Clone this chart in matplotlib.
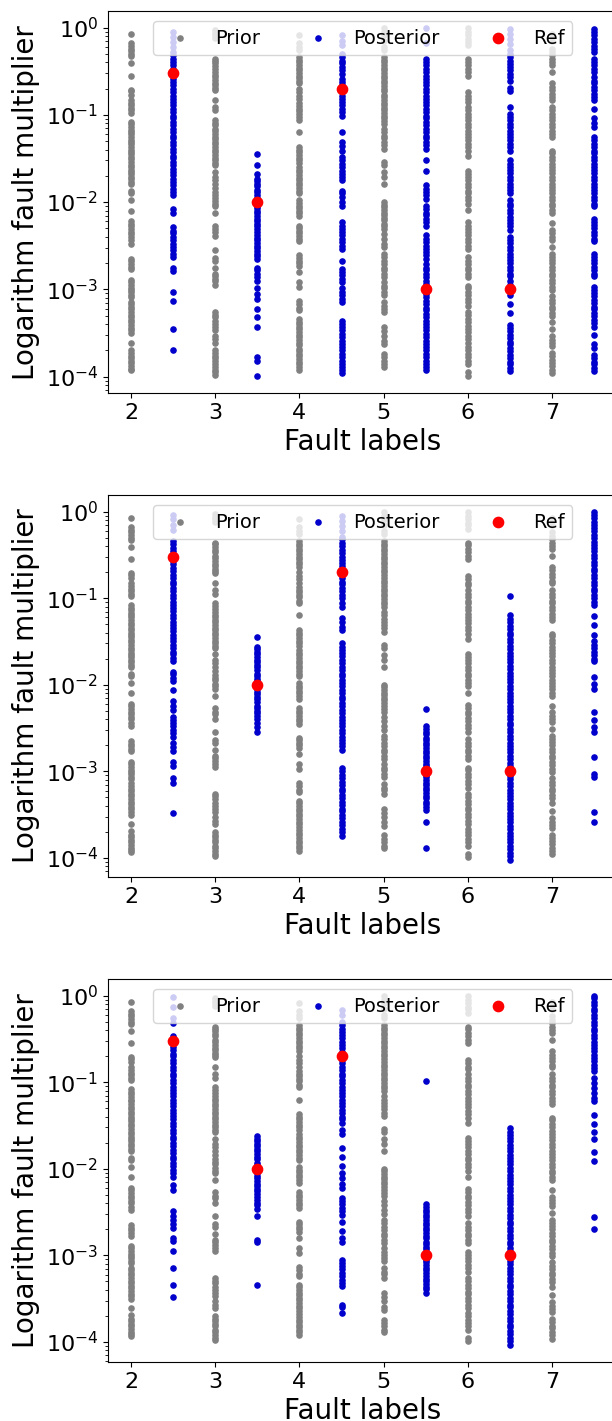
import numpy as np
import matplotlib
matplotlib.use("Agg")
import matplotlib.pyplot as plt

# =====================================================
# Fault positions
# =====================================================

PRIOR_X = [2, 3, 4, 5, 6, 7]
POST_X = [2.5, 3.5, 4.5, 5.5, 6.5, 7.5]
REF_X = [2.5, 3.5, 4.5, 5.5, 6.5]

# reference multipliers
REF_VALUES = [0.3, 0.01, 0.2, 0.001, 0.001]

# =====================================================
# Prior samples (log10 of multiplier), same for all runs
# =====================================================

PRIOR_2 = [-0.07, -0.18, -0.21, -0.24, -0.27, -0.30, -0.33, -0.41, -0.55, -0.71, -0.73, -0.77,
           -0.83, -0.86, -0.89, -0.92, -0.95, -0.98, -1.08, -1.11, -1.14, -1.17, -1.20, -1.22,
           -1.25, -1.29, -1.31, -1.34, -1.37, -1.40, -1.43, -1.45, -1.48, -1.51, -1.54, -1.57,
           -1.60, -1.63, -1.66, -1.68, -1.71, -1.74, -1.77, -1.79, -1.87, -1.90, -1.98, -2.10,
           -2.22, -2.25, -2.28, -2.31, -2.34, -2.37, -2.40, -2.44, -2.48, -2.65, -2.68, -2.71,
           -2.74, -2.77, -2.89, -2.92, -2.95, -2.98, -3.01, -3.03, -3.06, -3.09, -3.14, -3.17,
           -3.20, -3.23, -3.26, -3.29, -3.32, -3.35, -3.38, -3.41, -3.44, -3.47, -3.50, -3.61,
           -3.69, -3.73, -3.76, -3.79, -3.82, -3.85, -3.88, -3.91, -3.93]
PRIOR_3 = [-0.03, -0.06, -0.09, -0.12, -0.36, -0.38, -0.41, -0.44, -0.47, -0.51, -0.54, -0.57,
           -0.60, -0.63, -0.66, -0.69, -0.71, -0.83, -0.91, -0.95, -1.06, -1.09, -1.12, -1.16,
           -1.19, -1.22, -1.25, -1.28, -1.31, -1.34, -1.37, -1.40, -1.43, -1.46, -1.49, -1.52,
           -1.55, -1.58, -1.65, -1.71, -1.75, -1.79, -1.84, -1.89, -1.92, -1.95, -1.99, -2.02,
           -2.05, -2.13, -2.27, -2.31, -2.34, -2.39, -2.55, -2.64, -2.67, -2.75, -2.82, -2.85,
           -2.88, -2.91, -2.95, -3.26, -3.29, -3.32, -3.36, -3.40, -3.43, -3.47, -3.53, -3.57,
           -3.61, -3.70, -3.73, -3.76, -3.79, -3.82, -3.86, -3.89, -3.92, -3.95, -3.98]
PRIOR_4 = [-0.09, -0.18, -0.22, -0.26, -0.34, -0.37, -0.40, -0.43, -0.46, -0.49, -0.52, -0.55,
           -0.58, -0.61, -0.64, -0.70, -0.74, -0.78, -0.82, -0.87, -0.90, -0.93, -0.96, -0.99,
           -1.03, -1.06, -1.20, -1.37, -1.40, -1.43, -1.46, -1.49, -1.52, -1.55, -1.60, -1.63,
           -1.66, -1.69, -1.72, -1.75, -1.78, -1.81, -1.84, -1.87, -1.90, -1.98, -2.01, -2.04,
           -2.07, -2.10, -2.13, -2.16, -2.27, -2.30, -2.33, -2.36, -2.39, -2.42, -2.45, -2.61,
           -2.64, -2.67, -2.70, -2.73, -2.80, -2.92, -2.97, -3.13, -3.17, -3.21, -3.24, -3.34,
           -3.37, -3.40, -3.43, -3.46, -3.49, -3.52, -3.55, -3.58, -3.61, -3.64, -3.68, -3.71,
           -3.74, -3.77, -3.80, -3.83, -3.86, -3.89, -3.92]
PRIOR_5 = [-0.01, -0.05, -0.09, -0.15, -0.22, -0.26, -0.34, -0.37, -0.40, -0.43, -0.46, -0.49,
           -0.52, -0.55, -0.58, -0.61, -0.64, -0.67, -0.70, -0.73, -0.77, -0.80, -0.83, -0.86,
           -0.89, -0.92, -0.95, -0.98, -1.01, -1.04, -1.07, -1.10, -1.16, -1.20, -1.24, -1.27,
           -1.31, -1.35, -1.39, -1.54, -1.58, -1.66, -1.71, -1.79, -2.00, -2.03, -2.06, -2.09,
           -2.12, -2.15, -2.18, -2.21, -2.25, -2.28, -2.31, -2.37, -2.42, -2.48, -2.52, -2.59,
           -2.63, -2.67, -2.71, -2.75, -2.78, -2.82, -2.86, -2.92, -2.96, -2.99, -3.03, -3.07,
           -3.15, -3.19, -3.22, -3.26, -3.43, -3.48, -3.53, -3.59, -3.63, -3.74, -3.78, -3.82,
           -3.86, -3.89]
PRIOR_6 = [-0.01, -0.05, -0.09, -0.13, -0.16, -0.20, -0.36, -0.39, -0.43, -0.47, -0.51, -0.55,
           -0.74, -0.78, -0.82, -0.85, -0.91, -0.95, -0.99, -1.03, -1.06, -1.10, -1.14, -1.18,
           -1.22, -1.25, -1.29, -1.33, -1.37, -1.41, -1.47, -1.64, -1.68, -1.71, -1.75, -1.79,
           -1.83, -1.87, -1.90, -1.94, -1.98, -2.02, -2.09, -2.23, -2.27, -2.31, -2.34, -2.38,
           -2.42, -2.46, -2.50, -2.54, -2.63, -2.67, -2.71, -2.75, -2.78, -2.82, -2.86, -2.96,
           -2.99, -3.03, -3.07, -3.11, -3.15, -3.19, -3.26, -3.30, -3.34, -3.38, -3.42, -3.45,
           -3.49, -3.53, -3.57, -3.61, -3.66, -3.70, -3.74, -3.78, -3.82, -3.86, -3.95, -3.99]
PRIOR_7 = [-0.07, -0.15, -0.24, -0.28, -0.32, -0.36, -0.40, -0.43, -0.51, -0.64, -0.68, -0.72,
           -0.76, -0.80, -0.83, -0.91, -0.95, -0.99, -1.03, -1.06, -1.10, -1.14, -1.18, -1.22,
           -1.25, -1.41, -1.44, -1.48, -1.52, -1.56, -1.60, -1.63, -1.67, -1.71, -1.75, -1.79,
           -1.83, -1.86, -1.90, -1.94, -1.98, -2.02, -2.05, -2.09, -2.13, -2.24, -2.32, -2.36,
           -2.40, -2.43, -2.51, -2.59, -2.63, -2.66, -2.70, -2.74, -2.78, -2.82, -2.85, -2.89,
           -2.93, -2.97, -3.01, -3.08, -3.12, -3.16, -3.20, -3.23, -3.27, -3.31, -3.37, -3.46,
           -3.54, -3.58, -3.62, -3.65, -3.73, -3.77, -3.81, -3.84, -3.88, -3.92, -3.96]

PRIOR = [PRIOR_2, PRIOR_3, PRIOR_4, PRIOR_5, PRIOR_6, PRIOR_7]

# =====================================================
# Posterior samples (log10), run A
# =====================================================

POST_A_25 = [-0.05, -0.11, -0.16, -0.22, -0.28, -0.32, -0.36, -0.39, -0.43, -0.47, -0.50, -0.52,
             -0.55, -0.59, -0.62, -0.66, -0.70, -0.74, -0.78, -0.82, -0.85, -0.89, -0.93, -0.97,
             -1.01, -1.04, -1.08, -1.12, -1.16, -1.20, -1.24, -1.27, -1.31, -1.35, -1.39, -1.43,
             -1.47, -1.50, -1.54, -1.58, -1.62, -1.66, -1.69, -1.73, -1.77, -1.81, -1.85, -1.89,
             -1.92, -2.08, -2.13, -2.29, -2.33, -2.36, -2.40, -2.44, -2.48, -2.52, -2.55, -2.59,
             -2.63, -2.75, -2.79, -3.03, -3.13, -3.45, -3.70]
POST_A_35 = [-1.45, -1.57, -1.68, -1.73, -1.76, -1.79, -1.82, -1.86, -1.89, -1.92, -1.95, -1.98,
             -2.01, -2.04, -2.07, -2.10, -2.13, -2.16, -2.19, -2.22, -2.25, -2.28, -2.31, -2.34,
             -2.38, -2.41, -2.44, -2.47, -2.50, -2.53, -2.56, -2.59, -2.62, -2.65, -2.75, -2.78,
             -2.82, -2.86, -2.90, -2.98, -3.05, -3.11, -3.22, -3.32, -3.43, -3.78, -3.82, -3.99]
POST_A_45 = [-0.09, -0.15, -0.20, -0.30, -0.34, -0.38, -0.41, -0.45, -0.49, -0.53, -0.59, -0.62,
             -0.66, -0.74, -0.78, -0.82, -0.85, -0.89, -0.93, -0.97, -1.01, -1.20, -1.31, -1.36,
             -1.41, -1.48, -1.52, -1.56, -1.60, -1.64, -1.68, -1.71, -1.75, -1.87, -1.90, -1.94,
             -2.00, -2.04, -2.23, -2.27, -2.31, -2.34, -2.38, -2.42, -2.46, -2.50, -2.54, -2.67,
             -2.77, -2.80, -2.84, -2.88, -2.92, -2.99, -3.03, -3.07, -3.11, -3.14, -3.36, -3.40,
             -3.43, -3.47, -3.51, -3.55, -3.59, -3.63, -3.66, -3.70, -3.74, -3.78, -3.82, -3.86,
             -3.89, -3.93, -3.96]
POST_A_55 = [-0.01, -0.18, -0.36, -0.39, -0.43, -0.47, -0.51, -0.55, -0.59, -0.62, -0.66, -0.70,
             -0.74, -0.78, -0.82, -0.85, -0.89, -0.93, -0.97, -1.01, -1.04, -1.08, -1.12, -1.16,
             -1.20, -1.24, -1.27, -1.31, -1.35, -1.39, -1.52, -1.64, -1.81, -1.85, -1.89, -1.92,
             -1.96, -2.04, -2.08, -2.12, -2.15, -2.19, -2.23, -2.27, -2.38, -2.42, -2.46, -2.50,
             -2.54, -2.57, -2.61, -2.65, -2.71, -2.75, -2.78, -2.82, -2.86, -2.90, -2.94, -2.98,
             -3.01, -3.05, -3.09, -3.13, -3.17, -3.21, -3.24, -3.28, -3.32, -3.36, -3.40, -3.43,
             -3.47, -3.51, -3.55, -3.59, -3.63, -3.66, -3.70, -3.74, -3.78, -3.82, -3.86, -3.89,
             -3.93]
POST_A_65 = [-0.02, -0.07, -0.13, -0.19, -0.26, -0.30, -0.34, -0.38, -0.42, -0.45, -0.49, -0.53,
             -0.57, -0.61, -0.69, -0.73, -0.91, -0.99, -1.03, -1.06, -1.10, -1.14, -1.18, -1.22,
             -1.25, -1.29, -1.33, -1.37, -1.41, -1.52, -1.56, -1.60, -1.63, -1.67, -1.71, -1.75,
             -1.79, -1.83, -1.86, -1.90, -1.98, -2.02, -2.05, -2.09, -2.13, -2.17, -2.21, -2.24,
             -2.28, -2.32, -2.40, -2.43, -2.47, -2.51, -2.55, -2.59, -2.63, -2.66, -2.70, -2.74,
             -2.78, -2.82, -2.85, -2.91, -2.95, -3.06, -3.17, -3.27, -3.41, -3.44, -3.48, -3.52,
             -3.56, -3.60, -3.63, -3.67, -3.71, -3.75, -3.79, -3.83, -3.86, -3.90, -3.94]
POST_A_75 = [-0.02, -0.05, -0.09, -0.13, -0.17, -0.21, -0.24, -0.28, -0.36, -0.40, -0.43, -0.47,
             -0.51, -0.57, -0.61, -0.64, -0.68, -0.72, -0.76, -0.80, -0.83, -0.93, -1.04, -1.09,
             -1.14, -1.25, -1.29, -1.33, -1.37, -1.41, -1.44, -1.48, -1.52, -1.56, -1.60, -1.63,
             -1.67, -1.71, -1.75, -1.79, -1.83, -1.86, -1.90, -1.94, -1.98, -2.02, -2.05, -2.19,
             -2.23, -2.26, -2.30, -2.34, -2.38, -2.42, -2.45, -2.59, -2.63, -2.66, -2.70, -2.74,
             -2.78, -2.82, -2.85, -2.97, -3.01, -3.04, -3.08, -3.12, -3.16, -3.20, -3.23, -3.27,
             -3.31, -3.35, -3.39, -3.43, -3.52, -3.63, -3.67, -3.75, -3.79, -3.83, -3.86, -3.90,
             -3.94]

# =====================================================
# Posterior samples (log10), run B
# =====================================================

POST_B_25 = [-0.04, -0.09, -0.15, -0.21, -0.34, -0.38, -0.42, -0.46, -0.52, -0.57, -0.61, -0.65,
             -0.69, -0.73, -0.77, -0.81, -0.84, -0.88, -0.92, -0.96, -1.00, -1.04, -1.08, -1.11,
             -1.15, -1.19, -1.23, -1.27, -1.31, -1.35, -1.38, -1.42, -1.46, -1.50, -1.54, -1.58,
             -1.62, -1.65, -1.69, -1.73, -1.85, -1.88, -1.92, -1.96, -2.06, -2.19, -2.24, -2.29,
             -2.37, -2.41, -2.44, -2.48, -2.52, -2.56, -2.60, -2.67, -2.72, -2.77, -2.89, -2.94,
             -3.08, -3.13, -3.48]
POST_B_35 = [-1.45, -1.56, -1.59, -1.62, -1.65, -1.68, -1.71, -1.74, -1.77, -1.80, -1.83, -1.87,
             -1.90, -1.93, -1.96, -1.99, -2.02, -2.05, -2.08, -2.11, -2.14, -2.17, -2.20, -2.24,
             -2.27, -2.30, -2.33, -2.36, -2.40, -2.44, -2.49, -2.54]
POST_B_45 = [-0.05, -0.11, -0.17, -0.23, -0.29, -0.32, -0.36, -0.40, -0.44, -0.48, -0.52, -0.56,
             -0.59, -0.63, -0.73, -0.77, -0.81, -0.84, -0.88, -0.92, -0.96, -1.00, -1.06, -1.10,
             -1.23, -1.27, -1.33, -1.37, -1.52, -1.56, -1.60, -1.63, -1.67, -1.71, -1.75, -1.79,
             -1.83, -1.87, -1.90, -1.94, -1.98, -2.02, -2.06, -2.10, -2.14, -2.17, -2.21, -2.25,
             -2.29, -2.33, -2.37, -2.41, -2.44, -2.48, -2.52, -2.56, -2.60, -2.64, -2.67, -2.71,
             -2.75, -2.96, -3.00, -3.04, -3.08, -3.12, -3.16, -3.20, -3.23, -3.27, -3.31, -3.35,
             -3.39, -3.43, -3.46, -3.50, -3.54, -3.58, -3.62, -3.66, -3.70, -3.75]
POST_B_55 = [-2.28, -2.48, -2.51, -2.54, -2.57, -2.61, -2.64, -2.67, -2.70, -2.73, -2.76, -2.79,
             -2.82, -2.85, -2.88, -2.91, -2.94, -2.98, -3.01, -3.04, -3.07, -3.10, -3.13, -3.16,
             -3.19, -3.22, -3.25, -3.28, -3.31, -3.35, -3.38, -3.41, -3.45, -3.58, -3.88]
POST_B_65 = [-0.97, -1.20, -1.24, -1.28, -1.32, -1.36, -1.40, -1.43, -1.47, -1.51, -1.55, -1.59,
             -1.63, -1.67, -1.70, -1.74, -1.78, -1.82, -1.86, -1.90, -1.93, -1.97, -2.01, -2.05,
             -2.09, -2.13, -2.17, -2.20, -2.24, -2.28, -2.32, -2.36, -2.40, -2.44, -2.47, -2.51,
             -2.55, -2.59, -2.63, -2.67, -2.71, -2.74, -2.78, -2.82, -2.86, -2.90, -2.94, -2.98,
             -3.01, -3.05, -3.09, -3.13, -3.17, -3.21, -3.25, -3.28, -3.32, -3.36, -3.40, -3.44,
             -3.48, -3.51, -3.55, -3.59, -3.63, -3.67, -3.71, -3.75, -3.78, -3.82, -3.86, -3.90,
             -3.94, -3.98, -4.02]
POST_B_75 = [-0.01, -0.04, -0.08, -0.12, -0.15, -0.19, -0.23, -0.27, -0.31, -0.35, -0.39, -0.42,
             -0.46, -0.50, -0.54, -0.58, -0.62, -0.66, -0.69, -0.73, -0.77, -0.81, -0.85, -0.89,
             -0.92, -0.96, -1.00, -1.04, -1.08, -1.21, -1.31, -1.43, -1.50, -1.54, -1.58, -1.62,
             -1.66, -1.70, -1.73, -1.91, -1.99, -2.05, -2.31, -2.41, -2.49, -2.54, -2.83, -3.03,
             -3.06, -3.47, -3.58]

# =====================================================
# Posterior samples (log10), run C
# =====================================================

POST_C_25 = [-0.02, -0.13, -0.26, -0.32, -0.47, -0.55, -0.59, -0.63, -0.67, -0.70, -0.74, -0.78,
             -0.82, -0.86, -0.90, -0.93, -0.97, -1.01, -1.05, -1.09, -1.13, -1.16, -1.20, -1.24,
             -1.28, -1.32, -1.36, -1.39, -1.43, -1.47, -1.51, -1.55, -1.59, -1.63, -1.66, -1.70,
             -1.74, -1.78, -1.82, -1.86, -1.89, -1.93, -1.97, -2.01, -2.05, -2.09, -2.19, -2.24,
             -2.49, -2.54, -2.59, -2.64, -2.68, -2.80, -2.83, -2.95, -3.14, -3.34, -3.48]
POST_C_35 = [-1.62, -1.65, -1.68, -1.71, -1.74, -1.77, -1.80, -1.83, -1.86, -1.89, -1.93, -1.96,
             -1.99, -2.02, -2.05, -2.08, -2.11, -2.14, -2.17, -2.20, -2.23, -2.26, -2.29, -2.32,
             -2.36, -2.39, -2.42, -2.46, -2.55, -2.82, -2.85, -3.34]
POST_C_45 = [-0.17, -0.22, -0.30, -0.34, -0.38, -0.42, -0.45, -0.49, -0.53, -0.57, -0.61, -0.65,
             -0.74, -0.78, -0.82, -0.86, -0.90, -0.93, -0.97, -1.01, -1.05, -1.09, -1.13, -1.16,
             -1.20, -1.24, -1.28, -1.32, -1.36, -1.40, -1.43, -1.47, -1.55, -1.60, -1.76, -1.86,
             -1.97, -2.05, -2.11, -2.18, -2.22, -2.34, -2.37, -2.41, -2.45, -2.49, -2.53, -2.61,
             -2.72, -2.80, -2.85, -3.05, -3.09, -3.12, -3.16, -3.20, -3.24, -3.28, -3.32, -3.35,
             -3.57, -3.60, -3.66]
POST_C_55 = [-0.99, -2.41, -2.44, -2.47, -2.50, -2.53, -2.56, -2.59, -2.62, -2.65, -2.68, -2.71,
             -2.74, -2.77, -2.80, -2.84, -2.87, -2.90, -2.93, -2.96, -2.99, -3.02, -3.05, -3.08,
             -3.11, -3.14, -3.17, -3.20, -3.24, -3.27, -3.30, -3.33, -3.36, -3.39, -3.43]
POST_C_65 = [-1.53, -1.57, -1.61, -1.64, -1.68, -1.72, -1.76, -1.80, -1.84, -1.88, -1.91, -1.95,
             -1.99, -2.03, -2.07, -2.11, -2.14, -2.18, -2.22, -2.26, -2.30, -2.34, -2.37, -2.41,
             -2.45, -2.49, -2.53, -2.57, -2.61, -2.64, -2.68, -2.72, -2.76, -2.80, -2.84, -2.87,
             -2.91, -2.95, -2.99, -3.03, -3.07, -3.10, -3.14, -3.18, -3.22, -3.26, -3.30, -3.34,
             -3.37, -3.41, -3.45, -3.49, -3.53, -3.57, -3.60, -3.64, -3.68, -3.72, -3.76, -3.80,
             -3.83, -3.87, -3.91, -3.95, -3.99, -4.03]
POST_C_75 = [-0.01, -0.03, -0.07, -0.11, -0.15, -0.18, -0.22, -0.26, -0.30, -0.34, -0.38, -0.41,
             -0.45, -0.49, -0.53, -0.57, -0.61, -0.64, -0.68, -0.72, -0.76, -0.80, -0.84, -0.87,
             -0.95, -1.01, -1.07, -1.12, -1.18, -1.22, -1.38, -1.48, -1.58, -1.65, -1.81, -1.91,
             -2.56, -2.70]

POSTERIORS = [
    [POST_A_25, POST_A_35, POST_A_45, POST_A_55, POST_A_65, POST_A_75],
    [POST_B_25, POST_B_35, POST_B_45, POST_B_55, POST_B_65, POST_B_75],
    [POST_C_25, POST_C_35, POST_C_45, POST_C_55, POST_C_65, POST_C_75],
]

# =====================================================
# Figure
# =====================================================

fig = plt.figure(figsize=(6.12, 14.21), dpi=100)

# axes boxes in figure fraction (left, bottom, width, height)
boxes = [
    [0.1765, 0.7234, 0.832, 0.2688],
    [0.1765, 0.3828, 0.832, 0.2688],
    [0.1765, 0.0415, 0.832, 0.2695],
]

for box, post in zip(boxes, POSTERIORS):
    ax = fig.add_axes(box)

    for i, (x, vals) in enumerate(zip(PRIOR_X, PRIOR)):
        y = 10.0 ** np.array(vals)
        ax.scatter(np.full(len(y), x), y, s=14, color="gray",
                   label="Prior" if i == 0 else None)

    for i, (x, vals) in enumerate(zip(POST_X, post)):
        y = 10.0 ** np.array(vals)
        ax.scatter(np.full(len(y), x), y, s=14, color="#0000cc",
                   label="Posterior" if i == 0 else None)

    ax.scatter(REF_X, REF_VALUES, s=55, color="red", label="Ref", zorder=3)

    ax.set_yscale("log")
    ax.set_xlabel("Fault labels", fontsize=20)
    ax.set_ylabel("Logarithm fault multiplier", fontsize=20)
    ax.tick_params(axis="both", labelsize=16)
    ax.legend(loc="upper center", ncol=3, fontsize=14)

fig.savefig("out.png", dpi=100)
